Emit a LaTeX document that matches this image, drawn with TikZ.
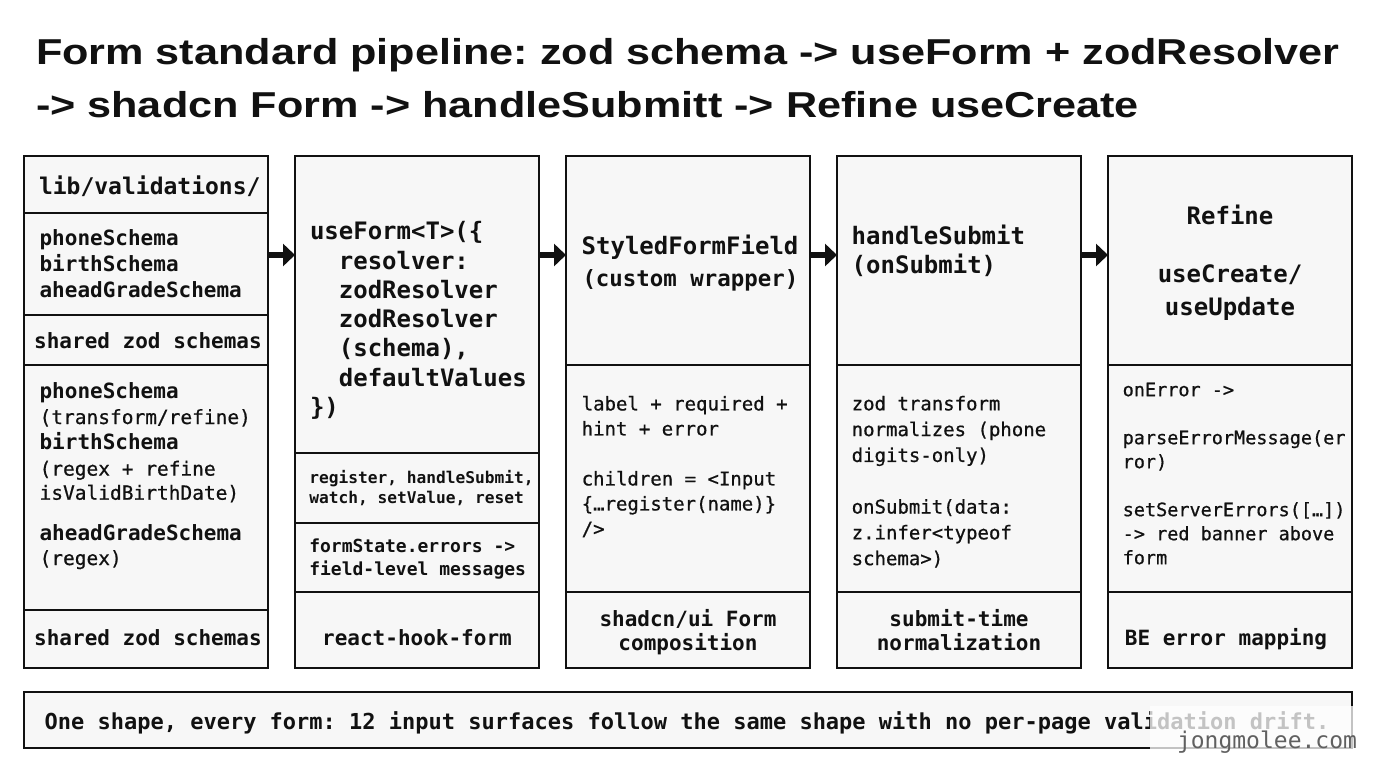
\documentclass[tikz,border=0pt]{standalone}
\usepackage{fontspec}
\setmainfont{Liberation Sans}
\newfontfamily\titlefont[FakeStretch=1.2]{Liberation Sans}
\newfontfamily\cmono{DejaVu Sans Mono}
\newfontfamily\cmonomed[FakeBold=0.7]{DejaVu Sans Mono}
\usetikzlibrary{arrows.meta}
\definecolor{boxfill}{RGB}{247,247,247}
\definecolor{ink}{RGB}{17,17,17}
\newcommand\setfs[2]{\fontsize{#1}{#2}\selectfont}
\frenchspacing

\begin{document}
\begin{tikzpicture}[x=1pt,y=-1pt,
  cell/.style={draw=ink, line width=1.8pt, fill=boxfill, minimum width=244pt, inner sep=0pt, outer sep=0pt},
  tx/.style={text=ink, inner sep=0pt, outer sep=0pt},
  hd/.style={tx, font=\cmono\bfseries\setfs{24}{29.3}, align=left, anchor=north west},
  bd/.style={tx, font=\cmonomed\setfs{19}{25}, align=left, anchor=north west},
  lbl/.style={tx, font=\cmono\bfseries\setfs{21}{24}, align=center},
  nm/.style={tx, font=\cmono\bfseries\setfs{21}{26}, anchor=base west},
  ds/.style={tx, font=\cmonomed\setfs{19.5}{24}, anchor=base west},
  ttl/.style={tx, font=\titlefont\bfseries\setfs{36}{36}, anchor=base west},
  arr/.style={draw=ink, line width=6pt, -{Triangle[length=12pt,width=22pt]}},
]
\useasboundingbox (0,0) rectangle (1376,768);
\fill[white] (0,0) rectangle (1376,768);

% title
\node[ttl] (title1) at (36,65)
  {Form standard pipeline: zod schema -> useForm + zodResolver};
\node[ttl] (title2) at (36,117)
  {-> shadcn Form -> handleSubmitt -> Refine useCreate};

% column 1
\node[cell, minimum height=57pt]  (c1a) at (146,184.5) {};
\node[cell, minimum height=102pt] (c1b) at (146,264) {};
\node[cell, minimum height=50pt]  (c1c) at (146,340) {};
\node[cell, minimum height=245pt] (c1d) at (146,487.5) {};
\node[cell, minimum height=58pt]  (c1e) at (146,639) {};
\node[lbl, anchor=base] (t1c) at (148,348) {shared zod schemas};
\node[lbl, anchor=base] (t1e) at (148,645.5) {shared zod schemas};

\node[tx, font=\cmono\bfseries\setfs{23}{28}, anchor=base west] (t1a) at (39,194.5) {lib/validations/};
\node[tx, font=\cmono\bfseries\setfs{21}{25.9}, align=left, anchor=north west] (t1b) at (39.6,229.3)
  {phoneSchema\\birthSchema\\aheadGradeSchema};
\node[nm] (t1d1) at (39.6,398.3) {phoneSchema};
\node[ds] (t1d2) at (39.6,424) {(transform/refine)};
\node[nm] (t1d3) at (39.6,449.8) {birthSchema};
\node[ds] (t1d4) at (39.6,475.6) {(regex + refine};
\node[ds] (t1d5) at (39.6,499.7) {isValidBirthDate)};
\node[nm] (t1d6) at (39.6,540.9) {aheadGradeSchema};
\node[ds] (t1d7) at (39.6,565) {(regex)};

% column 2
\node[cell, minimum height=297pt] (c2a) at (417,304.5) {};
\node[cell, minimum height=70pt]  (c2b) at (417,488) {};
\node[cell, minimum height=69pt]  (c2c) at (417,557.5) {};
\node[cell, minimum height=76pt]  (c2d) at (417,630) {};

\node[hd] (t2a) at (310,221.5)
  {useForm<T>(\{\\\phantom{xx}resolver:\\\phantom{xx}zodResolver\\\phantom{xx}zodResolver\\\phantom{xx}(schema),\\\phantom{xx}defaultValues\\\})};
\node[tx, font=\cmono\bfseries\setfs{16.2}{20.5}, align=left, anchor=north west] (t2b) at (309.3,470)
  {register, handleSubmit,\\watch, setValue, reset};
\node[tx, font=\cmono\bfseries\setfs{18}{22.3}, align=left, anchor=north west] (t2c) at (309.3,539.2)
  {formState.errors ->\\field-level messages};
\node[lbl, anchor=base] (t2d) at (417,645.5) {react-hook-form};

% column 3
\node[cell, minimum height=209pt] (c3a) at (688,260.5) {};
\node[cell, minimum height=227pt] (c3b) at (688,478.5) {};
\node[cell, minimum height=76pt]  (c3c) at (688,630) {};

\node[tx, font=\cmono\bfseries\setfs{24}{30}, anchor=base west] (t3a) at (581.7,254) {StyledFormField};
\node[tx, font=\cmono\bfseries\setfs{22.4}{30}, anchor=base west] (t3a2) at (582.5,286.6) {(custom wrapper)};
\node[bd] (t3b) at (581.7,395.9)
  {label + required +\\hint + error\\[25pt]children = <Input\\\{…register(name)\}\\/>};
\node[lbl, anchor=north] (t3c) at (688,609) {shadcn/ui Form\\composition};

% column 4
\node[cell, minimum height=209pt] (c4a) at (959,260.5) {};
\node[cell, minimum height=227pt] (c4b) at (959,478.5) {};
\node[cell, minimum height=76pt]  (c4c) at (959,630) {};

\node[hd] (t4a) at (851.7,224.9) {handleSubmit\\(onSubmit)};
\node[bd, font=\cmonomed\setfs{19}{25.8}] (t4b) at (851.7,395.9)
  {zod transform\\normalizes (phone\\digits-only)\\[25.8pt]onSubmit(data:\\z.infer<typeof\\schema>)};
\node[lbl, anchor=north] (t4c) at (959,609) {submit-time\\normalization};

% column 5
\node[cell, minimum height=209pt] (c5a) at (1230,260.5) {};
\node[cell, minimum height=227pt] (c5b) at (1230,478.5) {};
\node[cell, minimum height=76pt]  (c5c) at (1230,630) {};

\node[tx, font=\cmono\bfseries\setfs{24}{30}, anchor=base] (t5a) at (1230,224.7) {Refine};
\node[tx, font=\cmono\bfseries\setfs{24}{32.6}, align=center, anchor=north] (t5b) at (1230,265)
  {useCreate/\\useUpdate};
\node[bd, font=\cmonomed\setfs{18.5}{24}] (t5c) at (1122.7,382.7)
  {onError ->\\[24pt]parseErrorMessage(er\\ror)\\[24pt]setServerErrors([…])\\-> red banner above\\form};
\node[lbl, anchor=base] (t5d) at (1226,645.5) {BE error mapping};

% arrows
\coordinate (ay) at (0,255);
\draw[arr] (c1b.east |- ay) -- (c2a.west |- ay);
\draw[arr] (c2a.east |- ay) -- (c3a.west |- ay);
\draw[arr] (c3a.east |- ay) -- (c4a.west |- ay);
\draw[arr] (c4a.east |- ay) -- (c5a.west |- ay);

% bottom bar
\node[cell, minimum width=1328pt, minimum height=56pt] (bar) at (688,720) {};
\node[tx, font=\cmono\bfseries\setfs{22}{26}, anchor=base west] (bartext) at (44.6,729)
  {One shape, every form: 12 input surfaces follow the same shape with no per-page validation drift.};

% watermark
\fill[white, opacity=0.75] (1150,706) rectangle (1358,756);
\node[tx, text=gray!75!black, font=\cmono\setfs{23}{23}, anchor=base east] (wm) at (1357,748) {jongmolee.com};
\end{tikzpicture}
\end{document}
